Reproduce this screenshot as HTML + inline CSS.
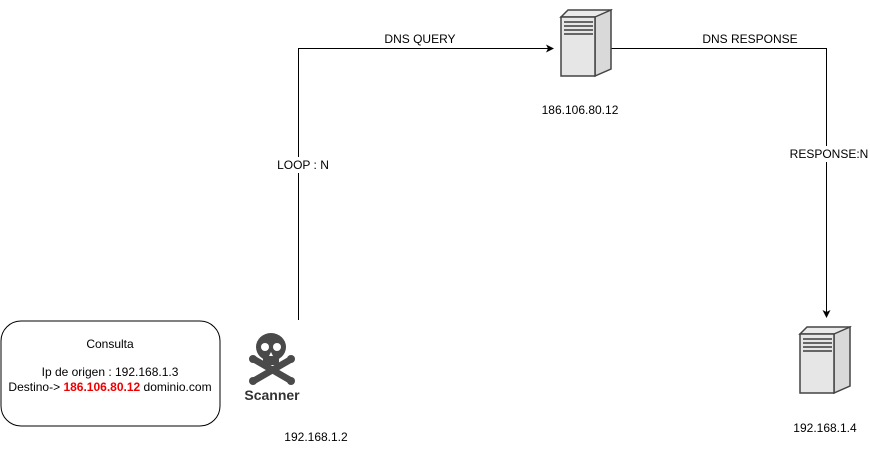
<!DOCTYPE html>
<html><head><meta charset="utf-8"><style>
body{margin:0;background:#fff;width:870px;height:449px;overflow:hidden}
text{font-family:"Liberation Sans",Arial,sans-serif;font-size:12px;fill:#000}
</style></head><body>
<svg width="870" height="449" viewBox="0 0 870 449" xmlns="http://www.w3.org/2000/svg">
<defs>
<g id="srv">
<path d="M1,7 L8,0 L51,0 L44,7 Z" fill="#eaeaea" stroke="#444" stroke-width="1.5"/>
<path d="M35,7 L51,0 L51,59 L35,66 Z" fill="#d9d9d9" stroke="#444" stroke-width="1.5"/>
<rect x="1" y="7" width="34" height="59" fill="#e6e6e6" stroke="#444" stroke-width="1.5"/>
<rect x="4" y="11" width="29" height="2" fill="#666"/>
<rect x="4" y="15" width="29" height="2" fill="#666"/>
<rect x="4" y="19" width="29" height="2" fill="#666"/>
<rect x="4" y="23" width="29" height="2" fill="#666"/>
</g>
</defs>
<rect x="1" y="321" width="219" height="105" rx="20" fill="#fff" stroke="#000" stroke-width="1"/>
<text x="110" y="348" text-anchor="middle">Consulta</text>
<text x="110" y="376" text-anchor="middle">Ip de origen : 192.168.1.3</text>
<text x="110" y="391" text-anchor="middle">Destino-&gt; <tspan font-weight="bold" style="fill:#e00">186.106.80.12</tspan> dominio.com</text>

<path d="M298.5,320 V48.5 H548" fill="none" stroke="#000"/>
<path d="M554,48.5 L546,44.5 L548,48.5 L546,52.5 Z" fill="#000"/>
<path d="M611,48.5 H826.5 V312" fill="none" stroke="#000"/>
<path d="M826.5,318 L822.5,310 L826.5,312 L830.5,310 Z" fill="#000"/>

<rect x="375" y="32" width="90" height="14" fill="#fff"/>
<text x="420" y="43" text-anchor="middle">DNS QUERY</text>
<text x="750" y="43" text-anchor="middle">DNS RESPONSE</text>
<rect x="272" y="157" width="60" height="16" fill="#fff"/>
<text x="303" y="169" text-anchor="middle">LOOP : N</text>
<rect x="788" y="146" width="80" height="16" fill="#fff"/>
<text x="829" y="158" text-anchor="middle">RESPONSE:N</text>

<use href="#srv" x="560" y="10"/>
<text x="580" y="114" text-anchor="middle">186.106.80.12</text>
<use href="#srv" x="799" y="327"/>
<text x="825" y="432" text-anchor="middle">192.168.1.4</text>

<g fill="#4a4a4a">
<ellipse cx="271" cy="347" rx="15" ry="14"/>
<rect x="263" y="353" width="16" height="12" rx="3"/>
<path d="M252,362 L290,384 L293,378 L255,356 Z M290,356 L252,378 L255,384 L293,362 Z"/>
<circle cx="253" cy="359" r="4"/><circle cx="291" cy="359" r="4"/>
<circle cx="253" cy="381" r="4"/><circle cx="291" cy="381" r="4"/>
</g>
<circle cx="265" cy="347" r="4" fill="#fff"/>
<circle cx="277" cy="347" r="4" fill="#fff"/>
<path d="M271,352 l-2,4 h4 z" fill="#fff"/>
<text x="272" y="400" text-anchor="middle" font-weight="bold" style="font-size:14px;fill:#333">Scanner</text>
<text x="316" y="441" text-anchor="middle">192.168.1.2</text>
</svg>
</body></html>
